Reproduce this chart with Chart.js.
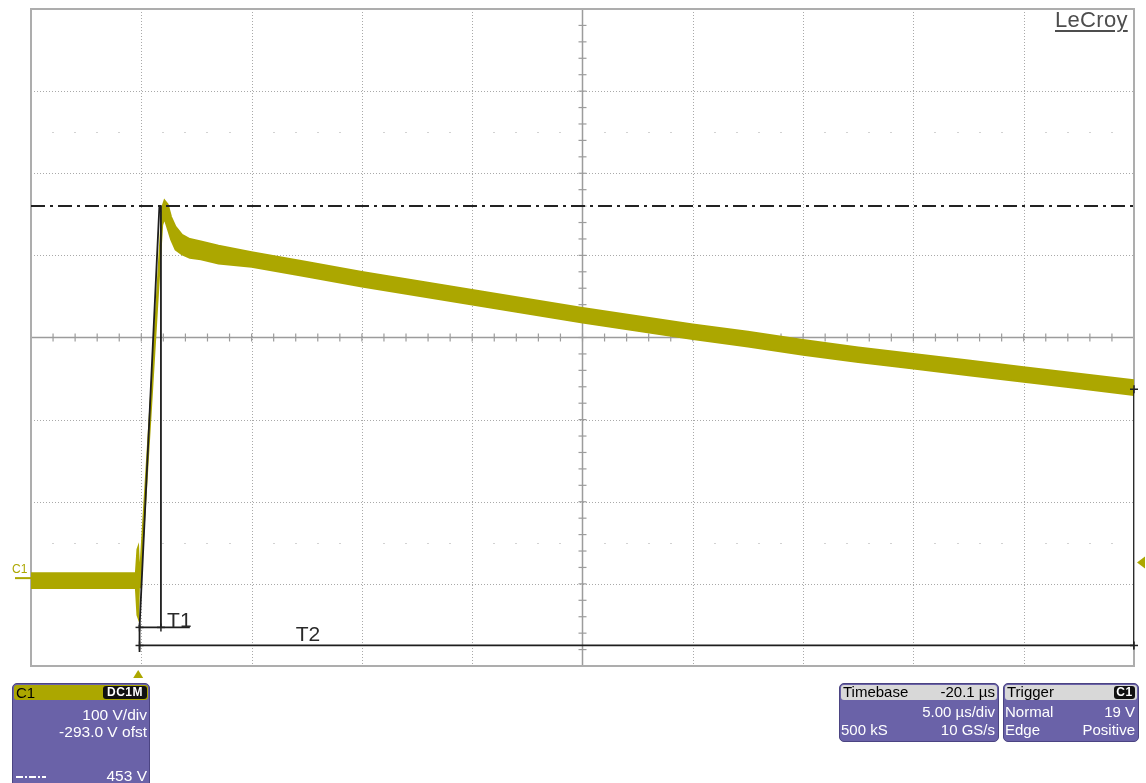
<!DOCTYPE html>
<html>
<head>
<meta charset="utf-8">
<script src="https://cdn.jsdelivr.net/npm/chart.js@4.4.0/dist/chart.umd.min.js"></script>
<style>
html,body{margin:0;padding:0;background:#fff;}
#wrap{position:relative;width:1146px;height:783px;overflow:hidden;font-family:"Liberation Sans",Arial,sans-serif;}
#scope{position:absolute;left:0;top:0;}
.panel{position:absolute;background:#6a62a8;border:1px solid #4b4482;border-radius:5px;box-sizing:border-box;}
.hdr{position:absolute;height:15px;border-radius:3px;}
.t{position:absolute;font-size:15px;line-height:15px;white-space:nowrap;color:#fff;}
.r{text-align:right;}
.k{color:#000;}
.badge{position:absolute;background:#111;color:#fff;font-size:12px;font-weight:bold;line-height:13px;height:13px;border-radius:3px;text-align:center;letter-spacing:0.5px;}
#lecroy{position:absolute;left:1055px;top:9px;font-size:22px;line-height:22px;color:#4d4d4d;letter-spacing:0.3px;text-decoration:underline;text-decoration-thickness:2px;text-underline-offset:3px;}
</style>
</head>
<body>
<div id="wrap">
<canvas id="scope" width="1146" height="783"></canvas>
<div id="lecroy">LeCroy</div>

<!-- C1 channel panel -->
<div class="panel" style="left:12px;top:683px;width:138px;height:110px;"></div>
<div class="hdr" style="left:14px;top:685px;width:134px;background:#aca700;"></div>
<div class="t k" style="left:16px;top:685px;">C1</div>
<div class="badge" style="left:103px;top:686px;width:44px;">DC1M</div>
<div class="t r" style="left:30px;width:117px;top:707px;font-size:15.5px;">100 V/div</div>
<div class="t r" style="left:30px;width:117px;top:724px;font-size:15.5px;">-293.0 V ofst</div>
<div class="t r" style="left:30px;width:117px;top:768px;font-size:15.5px;">453 V</div>
<div style="position:absolute;left:16px;top:776px;width:30px;height:2px;background:repeating-linear-gradient(90deg,#fff 0 7px,transparent 7px 9px,#fff 9px 11px,transparent 11px 13px);"></div>

<!-- Timebase panel -->
<div class="panel" style="left:839px;top:683px;width:160px;height:59px;"></div>
<div class="hdr" style="left:841px;top:685px;width:156px;background:#d8d8d8;"></div>
<div class="t k" style="left:843px;top:684px;">Timebase</div>
<div class="t k r" style="left:900px;width:95px;top:684px;">-20.1 µs</div>
<div class="t r" style="left:880px;width:115px;top:704px;">5.00 µs/div</div>
<div class="t" style="left:841px;top:722px;">500 kS</div>
<div class="t r" style="left:900px;width:95px;top:722px;">10 GS/s</div>

<!-- Trigger panel -->
<div class="panel" style="left:1003px;top:683px;width:136px;height:59px;"></div>
<div class="hdr" style="left:1005px;top:685px;width:132px;background:#d8d8d8;"></div>
<div class="t k" style="left:1007px;top:684px;">Trigger</div>
<div class="badge" style="left:1114px;top:686px;width:21px;">C1</div>
<div class="t" style="left:1005px;top:704px;">Normal</div>
<div class="t r" style="left:1060px;width:75px;top:704px;">19 V</div>
<div class="t" style="left:1005px;top:722px;">Edge</div>
<div class="t r" style="left:1060px;width:75px;top:722px;">Positive</div>
</div>

<script>
// ---- Data (time in µs relative to trigger, voltage in V) ----
const timeUs     = [-5, -2.5, -0.25, -0.18, -0.14, -0.1, -0.05, 0.2, 0.5, 0.8, 0.95, 1.05, 1.2, 1.35, 1.55, 1.85, 2.2, 2.7, 3.5, 5, 7.5, 10, 12.5, 15, 17.5, 20, 22.5, 25, 27.5, 30, 32.5, 35, 37.5, 40, 42.5, 45];
const traceUpper = [6, 6, 6, 35, 38, 12, 10, 120, 250, 385, 452, 460, 455, 440, 428, 418, 413, 410, 405, 397, 385, 373, 362, 351, 340, 329, 319, 309, 300, 290, 281, 273, 265, 257, 249, 241];
const traceLower = [-12, -12, -12, -45, -48, -8, -10, 100, 232, 365, 430, 438, 425, 412, 400, 394, 390, 388, 383, 379, 367, 355, 344, 333, 322, 311, 301, 291, 282, 272, 263, 255, 247, 239, 231, 223];

// cursors / annotation marks
const cursorLevelV  = 453;
const tangentT      = [-0.08, 0.82, 0.89, 0.89];
const tangentV      = [-60, 453, 453, -60];
const t1LineT       = [-0.08, 2.2];
const t1LineV       = [-60, -60];
const t2LineT       = [-0.08, 45];
const t2LineV       = [-82, -82];
const leftMarkT     = [-0.08, -0.08];
const leftMarkV     = [-57, -90];
const rightMarkT    = [45, 45];
const rightMarkV    = [230, -87];
const t1Label = {text:'T1', t:1.17, v:-59};
const t2Label = {text:'T2', t:7.0,  v:-76};

// grid (5 µs/div, 100 V/div, offset -293 V)
const xDivs   = [-5, 0, 5, 10, 15, 20, 25, 30, 35, 40, 45];
const yDivs   = [-107, -7, 93, 193, 293, 393, 493, 593, 693];
const xCenter = 20;
const yCenter = 293;
const faintRowsV = [543, 43];
const groundV = 0;
const triggerT = -0.14;
const triggerLevelV = 19;

const olive = '#aca700';
const pts = (xs, ys) => xs.map((x, i) => ({x, y: ys[i]}));

const gridPlugin = {
  id: 'scopeGrid',
  beforeDatasetsDraw(chart) {
    const {ctx, chartArea: a, scales: {x, y}} = chart;
    ctx.save();
    const seg = (x1, y1, x2, y2) => { ctx.beginPath(); ctx.moveTo(x1, y1); ctx.lineTo(x2, y2); ctx.stroke(); };
    // faint dot rows
    ctx.fillStyle = '#d2d2d2';
    faintRowsV.forEach(v => {
      const py = Math.round(y.getPixelForValue(v));
      for (let t = xDivs[0] + 1; t < xDivs[xDivs.length - 1]; t += 1) {
        if (t % 5 === 0) continue;
        ctx.fillRect(Math.round(x.getPixelForValue(t)) - 1, py, 2, 1);
      }
    });
    // dotted grid
    ctx.strokeStyle = '#a9a9a9'; ctx.lineWidth = 1; ctx.setLineDash([1, 2]);
    xDivs.slice(1, -1).forEach(v => { if (v === xCenter) return; const px = Math.round(x.getPixelForValue(v)) + 0.5; seg(px, a.top, px, a.bottom); });
    yDivs.slice(1, -1).forEach(v => { if (v === yCenter) return; const py = Math.round(y.getPixelForValue(v)) + 0.5; seg(a.left, py, a.right, py); });
    // center cross with minor ticks
    ctx.setLineDash([]); ctx.strokeStyle = '#9c9c9c'; ctx.lineWidth = 1.5;
    const cx = x.getPixelForValue(xCenter), cy = y.getPixelForValue(yCenter);
    seg(cx, a.top, cx, a.bottom); seg(a.left, cy, a.right, cy);
    ctx.lineWidth = 1.2;
    for (let t = xDivs[0] + 1; t < xDivs[xDivs.length - 1]; t += 1) { const px = x.getPixelForValue(t); seg(px, cy - 4, px, cy + 4); }
    for (let v = yDivs[0] + 20; v < yDivs[yDivs.length - 1]; v += 20) { const py = y.getPixelForValue(v); seg(cx - 4, py, cx + 4, py); }
    // frame
    ctx.strokeStyle = '#adadad'; ctx.lineWidth = 2;
    ctx.strokeRect(a.left, a.top, a.right - a.left, a.bottom - a.top);
    ctx.restore();
  },
  afterDatasetsDraw(chart) {
    const {ctx, chartArea: a, scales: {x, y}} = chart;
    ctx.save();
    const seg = (x1, y1, x2, y2) => { ctx.beginPath(); ctx.moveTo(x1, y1); ctx.lineTo(x2, y2); ctx.stroke(); };
    // end marks on T lines
    ctx.strokeStyle = '#222'; ctx.lineWidth = 1.5;
    [[t1LineT[0], t1LineV[0]], [tangentT[2], t1LineV[0]], [t2LineT[0], t2LineV[0]], [t2LineT[1], t2LineV[0]], [rightMarkT[0], rightMarkV[0]]].forEach(([t, v]) => {
      const px = x.getPixelForValue(t), py = y.getPixelForValue(v);
      seg(px - 4, py, px + 4, py); seg(px, py - 4, px, py + 4);
    });
    // labels
    ctx.fillStyle = '#2a2a2a'; ctx.font = '21px "Liberation Sans", Arial, sans-serif'; ctx.textBaseline = 'alphabetic';
    [t1Label, t2Label].forEach(l => ctx.fillText(l.text, x.getPixelForValue(l.t), y.getPixelForValue(l.v)));
    // ground marker C1
    const gy = y.getPixelForValue(groundV);
    ctx.fillStyle = olive; ctx.strokeStyle = olive; ctx.lineWidth = 2;
    ctx.font = '12px "Liberation Sans", Arial, sans-serif';
    ctx.fillText('C1', 12, gy - 5);
    seg(15, gy, a.left, gy);
    // trigger time marker (below)
    const tx = x.getPixelForValue(triggerT);
    ctx.beginPath(); ctx.moveTo(tx, a.bottom + 4); ctx.lineTo(tx + 5, a.bottom + 12); ctx.lineTo(tx - 5, a.bottom + 12); ctx.closePath(); ctx.fill();
    // trigger level marker (right)
    const ty = y.getPixelForValue(triggerLevelV);
    ctx.beginPath(); ctx.moveTo(a.right + 3, ty); ctx.lineTo(a.right + 11, ty - 6); ctx.lineTo(a.right + 11, ty + 6); ctx.closePath(); ctx.fill();
    ctx.restore();
  }
};

const blackLine = (data, extra) => Object.assign({data, borderColor: '#1e1e1e', borderWidth: 1.8, pointRadius: 0, fill: false, tension: 0}, extra || {});

new Chart(document.getElementById('scope'), {
  type: 'line',
  data: {
    datasets: [
      blackLine(pts(tangentT, tangentV)),
      blackLine(pts(t1LineT, t1LineV)),
      blackLine(pts(t2LineT, t2LineV)),
      blackLine(pts(leftMarkT, leftMarkV)),
      blackLine(pts(rightMarkT, rightMarkV)),
      blackLine([{x: xDivs[0], y: cursorLevelV}, {x: xDivs[xDivs.length - 1], y: cursorLevelV}], {borderDash: [14, 5, 3, 5], borderWidth: 2, borderColor: '#222'}),
      {data: pts(timeUs, traceUpper), borderColor: olive, borderWidth: 1.8, pointRadius: 0, fill: false, tension: 0},
      {data: pts(timeUs, traceLower), borderColor: olive, borderWidth: 1.8, pointRadius: 0, fill: '-1', backgroundColor: olive, tension: 0}
    ]
  },
  options: {
    responsive: false,
    animation: false,
    devicePixelRatio: 1,
    events: [],
    layout: {padding: {left: 31, top: 9, right: 12, bottom: 117}},
    scales: {
      x: {type: 'linear', min: xDivs[0], max: xDivs[xDivs.length - 1], display: false},
      y: {type: 'linear', min: yDivs[0], max: yDivs[yDivs.length - 1], display: false}
    },
    plugins: {legend: {display: false}, tooltip: {enabled: false}, filler: {propagate: false}}
  },
  plugins: [gridPlugin]
});
</script>
</body>
</html>
